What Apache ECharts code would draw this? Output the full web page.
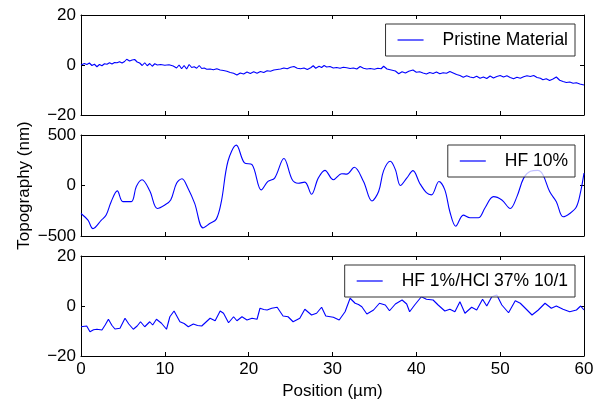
<!DOCTYPE html>
<html>
<head>
<meta charset="utf-8">
<script src="https://cdn.jsdelivr.net/npm/echarts@6/dist/echarts.min.js"></script>
<style>html,body{margin:0;padding:0;background:#fff}#c{width:600px;height:402px}</style>
</head>
<body>
<div id="c"></div>
<script>
const seriesNames = ['Pristine Material', 'HF 10%', 'HF 1%/HCl 37% 10/1'];
const xTicks = [0, 10, 20, 30, 40, 50, 60];
const pristine = [[0,0],[0.4,0.6],[0.7,0.2],[1.0,0.8],[1.3,-0.2],[1.6,0.3],[1.9,-0.7],[2.2,0.2],[2.5,-0.3],[2.8,0.5],[3.1,0.3],[3.4,0.9],[3.7,0.4],[4.0,1.0],[4.3,0.9],[4.6,1.3],[4.9,0.8],[5.2,1.4],[5.45,2.3],[5.8,1.6],[6.1,2.0],[6.4,2.2],[6.7,1.2],[7.0,0.8],[7.3,-0.2],[7.6,0.9],[7.9,-0.3],[8.2,0.6],[8.5,-0.5],[8.8,0.5],[9.1,0.0],[9.5,0.2],[10.0,-0.1],[10.5,0.1],[11.0,-0.4],[11.4,-1.2],[11.7,0.0],[12.0,-1.5],[12.3,-0.2],[12.6,-1.6],[12.9,0.2],[13.2,-1.0],[13.5,-0.7],[13.8,-1.3],[14.1,-0.2],[14.4,-1.4],[14.7,-1.2],[15.0,-1.7],[15.4,-1.6],[15.8,-1.9],[16.2,-1.5],[16.6,-2.0],[17.0,-2.2],[17.4,-2.5],[17.8,-3.0],[18.2,-3.3],[18.6,-4.0],[19.0,-3.2],[19.4,-3.6],[19.8,-2.8],[20.2,-3.4],[20.6,-2.7],[21.0,-3.3],[21.4,-2.6],[21.8,-3.0],[22.2,-2.3],[22.6,-2.5],[23.0,-2.0],[23.4,-1.8],[23.8,-1.6],[24.2,-1.2],[24.6,-1.5],[25.0,-0.9],[25.4,-0.6],[25.8,-1.3],[26.2,-1.5],[26.6,-1.2],[27.0,-1.8],[27.4,-1.1],[27.7,-0.3],[28.0,-1.3],[28.4,-0.5],[28.7,-1.0],[29.0,-0.2],[29.3,-0.8],[29.7,-0.6],[30.1,-1.2],[30.5,-1.0],[30.9,-1.3],[31.3,-0.9],[31.7,-1.1],[32.1,-1.4],[32.5,-1.2],[32.9,-1.6],[33.3,-0.6],[33.7,-1.3],[34.1,-1.6],[34.5,-1.4],[35.0,-1.7],[35.4,-1.3],[35.8,-1.5],[36.1,-0.5],[36.5,-1.6],[37.0,-2.0],[37.5,-2.4],[37.9,-3.5],[38.3,-2.7],[38.7,-3.2],[39.1,-2.5],[39.6,-2.0],[40.0,-2.9],[40.4,-2.7],[40.8,-3.2],[41.2,-3.6],[41.6,-3.0],[42.0,-3.4],[42.4,-2.8],[42.8,-3.5],[43.2,-3.1],[43.6,-3.3],[44.0,-2.6],[44.4,-3.2],[44.8,-3.8],[45.2,-4.2],[45.6,-4.9],[46.0,-4.3],[46.4,-4.8],[46.8,-5.1],[47.2,-4.5],[47.6,-5.3],[48.0,-4.8],[48.4,-5.4],[48.8,-4.4],[49.2,-5.2],[49.6,-4.6],[50.0,-4.2],[50.4,-4.8],[50.8,-4.3],[51.2,-5.0],[51.6,-5.5],[52.0,-4.9],[52.4,-5.3],[52.8,-4.7],[53.2,-4.3],[53.6,-4.6],[54.0,-4.2],[54.4,-5.0],[54.8,-5.3],[55.1,-5.9],[55.5,-5.5],[55.9,-6.2],[56.3,-5.6],[56.7,-4.8],[57.1,-6.1],[57.5,-6.6],[57.9,-7.0],[58.3,-6.8],[58.7,-7.3],[59.1,-7.1],[59.5,-7.6],[60.0,-8.0]];
const hf10 = [[0,-277],[0.83,-343],[1.43,-427],[2.43,-343],[3.0,-293],[3.6,-160],[4.33,-53],[5.0,-160],[6.0,-160],[6.6,-10],[7.28,57],[8.2,-53],[9.1,-227],[10.0,-193],[10.7,-143],[11.4,23],[12.05,67],[12.76,-27],[13.56,-177],[14.55,-420],[15.35,-377],[16.14,-333],[16.74,-160],[17.53,240],[18.53,400],[19.5,223],[20.4,207],[21.5,-43],[22.3,40],[23.1,73],[24.2,267],[25.2,57],[25.9,23],[26.7,33],[27.5,-87],[28.3,73],[29.1,150],[30.1,57],[31.1,117],[31.7,113],[32.6,180],[33.7,40],[34.7,-153],[35.5,-60],[36.1,147],[36.9,240],[37.5,157],[38.1,0],[38.85,73],[39.6,147],[40.4,23],[41.2,-70],[41.8,-93],[42.7,40],[43.4,-43],[44.0,-260],[44.7,-403],[45.6,-293],[46.4,-320],[47.4,-320],[48.2,-220],[49.2,-110],[50.2,-143],[51.2,-227],[52.0,-110],[52.8,73],[53.6,140],[54.5,150],[55.1,107],[55.9,-60],[56.7,-160],[57.5,-310],[58.3,-277],[59.1,-210],[59.6,-60],[60.0,123]];
const hf1hcl = [[0,-8.3],[0.68,-8.0],[1.07,-10.3],[1.5,-9.5],[1.9,-9.3],[2.5,-9.6],[2.9,-7.5],[3.27,-5.3],[3.7,-7.8],[4.05,-9.2],[4.65,-8.9],[5.25,-4.9],[5.7,-7.2],[6.24,-9.3],[6.7,-8.0],[7.1,-6.3],[7.6,-8.3],[8.2,-6.3],[8.55,-7.6],[9.0,-5.3],[9.6,-6.9],[10.2,-9.3],[10.6,-4.3],[11.1,-2.0],[11.8,-6.3],[12.3,-7.0],[12.8,-8.3],[13.4,-7.2],[13.9,-7.8],[14.4,-8.0],[15.4,-4.9],[16.0,-5.9],[16.6,-2.0],[17.0,-2.9],[17.6,-6.7],[18.2,-4.3],[18.6,-5.9],[19.2,-4.3],[19.8,-5.6],[20.4,-4.9],[21.0,-5.3],[21.35,-0.9],[21.8,-1.4],[22.2,-1.6],[22.75,-0.9],[23.4,-0.5],[24.1,-4.0],[24.7,-4.3],[25.3,-6.3],[26.1,-4.9],[26.7,-1.3],[27.5,-3.6],[28.1,-2.9],[28.7,-0.5],[29.2,-4.0],[30.1,-4.5],[30.8,-5.6],[31.5,-2.3],[32.1,3.1],[32.7,1.1],[33.1,0.6],[33.5,-0.3],[34.1,-3.2],[34.9,-1.6],[35.6,1.1],[36.3,0.4],[36.8,-1.9],[37.5,0.8],[38.3,2.4],[38.85,0.8],[39.2,-2.3],[39.8,0.4],[40.6,3.7],[41.2,2.7],[42.0,2.4],[42.6,0.4],[43.4,-2.0],[44.0,-1.3],[44.6,-2.3],[45.2,1.7],[45.8,-2.9],[46.6,-0.5],[47.2,-1.6],[47.9,2.7],[48.4,0.0],[49.0,3.7],[49.6,4.4],[50.2,0.4],[51.0,-2.7],[51.8,2.1],[52.4,1.1],[53.0,-0.9],[53.8,-3.6],[54.55,-1.6],[55.35,1.1],[56.1,-0.9],[56.7,0.0],[57.5,-1.3],[58.3,-2.3],[59.1,-1.6],[59.6,0.0],[60.0,-1.6]];
const yTicksSmall = [-20, 0, 20];
const yTicksLarge = [-500, 0, 500];

const FONT = 'Liberation Sans, Arial, sans-serif';
const minus = v => String(v).replace('-', '\u2212');
const gridTops = [15, 135, 256];
const gridHeights = [100, 101, 100];
const yRanges = [yTicksSmall, yTicksLarge, yTicksSmall];
const datasets = [pristine, hf10, hf1hcl];

const grids = gridTops.map((t, i) => ({left: 81, top: t, width: 503, height: gridHeights[i], containLabel: false}));
const xAxes = [];
const yAxes = [];
for (let pos of ['bottom', 'top']) {
  for (let i = 0; i < 3; i++) {
    const showLabel = pos === 'bottom' && i === 2;
    xAxes.push({
      type: 'value', gridIndex: i, position: pos, min: xTicks[0], max: xTicks[xTicks.length - 1], interval: 10,
      axisLine: {show: true, onZero: false, lineStyle: {color: '#000', width: 1}},
      axisTick: {show: true, inside: true, length: 4, lineStyle: {color: '#000'}},
      axisLabel: {show: showLabel, color: '#000', fontFamily: FONT, fontSize: 17, margin: 5, formatter: minus},
      splitLine: {show: false},
      name: showLabel ? 'Position (\u00b5m)' : '', nameLocation: 'middle', nameGap: 27,
      nameTextStyle: {color: '#000', fontFamily: FONT, fontSize: 17}
    });
  }
}
for (let pos of ['left', 'right']) {
  for (let i = 0; i < 3; i++) {
    const r = yRanges[i];
    const showLabel = pos === 'left';
    yAxes.push({
      type: 'value', gridIndex: i, position: pos, min: r[0], max: r[r.length - 1], interval: r[1] - r[0],
      axisLine: {show: true, onZero: false, lineStyle: {color: '#000', width: 1}},
      axisTick: {show: true, inside: true, length: 4, lineStyle: {color: '#000'}},
      axisLabel: {show: showLabel, color: '#000', fontFamily: FONT, fontSize: 17, margin: 5, formatter: minus},
      splitLine: {show: false},
      name: (showLabel && i === 1) ? 'Topography (nm)' : '', nameLocation: 'middle', nameGap: 48,
      nameMoveOverlap: false,
      nameTextStyle: {color: '#000', fontFamily: FONT, fontSize: 17}
    });
  }
}
const series = datasets.map((d, i) => ({
  name: seriesNames[i], type: 'line', xAxisIndex: i, yAxisIndex: i, data: d,
  symbol: 'none', smooth: i === 1 ? 0.35 : false,
  lineStyle: {color: '#0000ff', width: 1.1}, itemStyle: {color: '#0000ff'}, z: 1
}));
const legendTops = [24, 145, 265];
const legends = seriesNames.map((n, i) => ({
  data: [{name: n, icon: 'rect'}], right: 25, top: legendTops[i], orient: 'horizontal',
  backgroundColor: 'rgba(255,255,255,0.75)', borderColor: '#333', borderWidth: 1, borderRadius: 0,
  padding: [7, 7, 7, 12], itemWidth: 26, itemHeight: 1.2,
  itemStyle: {color: '#0000ff', borderWidth: 0},
  textStyle: {color: '#000', fontFamily: FONT, fontSize: 17.5, lineHeight: 18, padding: [0, 0, 0, 14]},
  selectedMode: false, z: 10
}));
const chart = echarts.init(document.getElementById('c'), null, {renderer: 'canvas'});
chart.setOption({
  animation: false, backgroundColor: '#fff',
  grid: grids, xAxis: xAxes, yAxis: yAxes, series: series, legend: legends
});
</script>
</body>
</html>
